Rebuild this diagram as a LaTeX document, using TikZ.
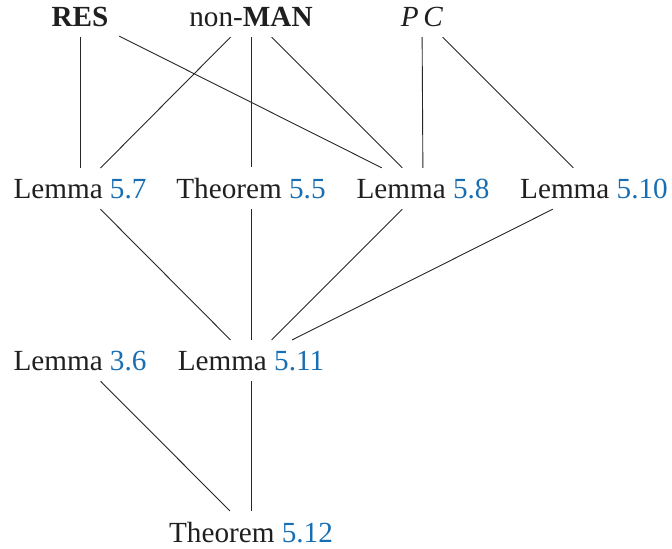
\documentclass[tikz,border=0pt]{standalone}
\usepackage{fontspec}
\setmainfont{Liberation Serif}
\definecolor{refblue}{RGB}{24,110,178}
\tikzset{
  lbl/.style={anchor=base, inner sep=5.2pt, font=\fontsize{14.6}{17.5}\selectfont, text=black!88},
  link/.style={draw=black!85, line width=0.45pt}
}
\newcommand{\rn}[1]{\textcolor{refblue}{#1}}
\begin{document}
\begin{tikzpicture}[x=0.5pt,y=-0.5pt]
\useasboundingbox (0,0) rectangle (672,548);
% row 1
\node[lbl] (res) at (80,26) {\textbf{RES}};
\node[lbl] (man) at (251,26) {non-\textbf{MAN}};
\node[lbl] (pc) at (422,26) {\textit{P\,C}};
% row 2
\node[lbl] (l57) at (80,198) {Lemma \rn{5.7}};
\node[lbl] (t55) at (251,198) {Theorem \rn{5.5}};
\node[lbl] (l58) at (423,198) {Lemma \rn{5.8}};
\node[lbl] (l510) at (594,198) {Lemma \rn{5.10}};
% row 3
\node[lbl] (l36) at (80,370) {Lemma \rn{3.6}};
\node[lbl] (l511) at (251,370) {Lemma \rn{5.11}};
% row 4
\node[lbl] (t512) at (251,542) {Theorem \rn{5.12}};
% connectors
\draw[link] (res) -- (l57);
\draw[link] (res) -- (l58);
\draw[link] (man) -- (l57);
\draw[link] (man) -- (t55);
\draw[link] (man) -- (l58);
\draw[link] (pc) -- (l58);
\draw[link] (pc) -- (l510);
\draw[link] (l57) -- (l511);
\draw[link] (t55) -- (l511);
\draw[link] (l58) -- (l511);
\draw[link] (l510) -- (l511);
\draw[link] (l36) -- (t512);
\draw[link] (l511) -- (t512);
\end{tikzpicture}
\end{document}
